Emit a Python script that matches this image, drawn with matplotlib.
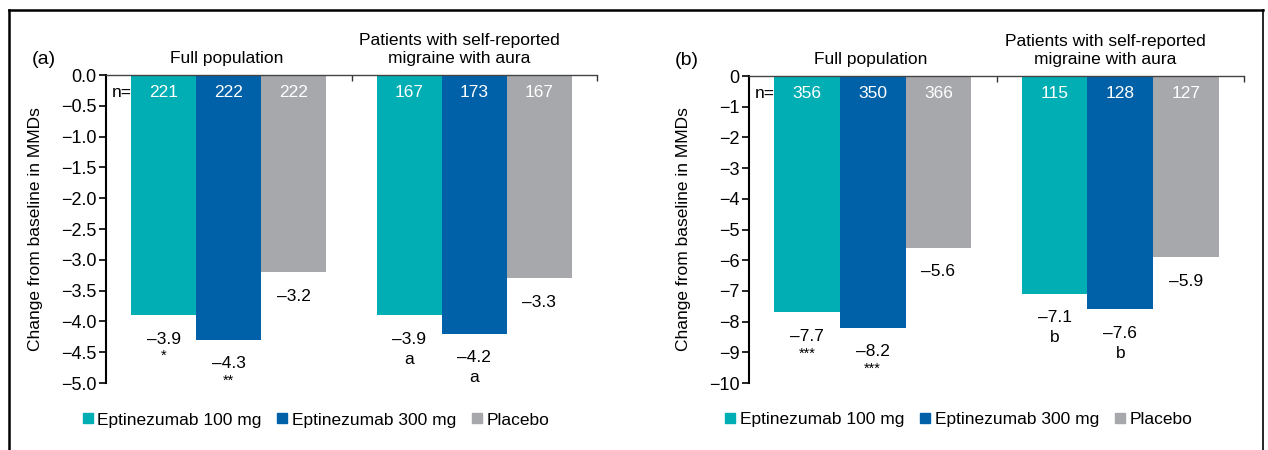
import matplotlib.pyplot as plt
from matplotlib.lines import Line2D

# ── Data ───────────────────────────────────────────
TREATMENTS   = ["Eptinezumab 100 mg", "Eptinezumab 300 mg", "Placebo"]
COLORS       = ["#00AEB3", "#0061A9", "#A7A8AB"]
GROUPS       = ["Full population", "Patients with self-reported\nmigraine with aura"]

# panel (a)
A_CHANGE = [[-3.9, -4.3, -3.2], [-3.9, -4.2, -3.3]]
A_N      = [[221, 222, 222], [167, 173, 167]]
A_SIG    = [["*", "**", ""], ["a", "a", ""]]
A_TICKS  = [0.0, -0.5, -1.0, -1.5, -2.0, -2.5, -3.0, -3.5, -4.0, -4.5, -5.0]

# panel (b)
B_CHANGE = [[-7.7, -8.2, -5.6], [-7.1, -7.6, -5.9]]
B_N      = [[356, 350, 366], [115, 128, 127]]
B_SIG    = [["***", "***", ""], ["b", "b", ""]]
B_TICKS  = [0, -1, -2, -3, -4, -5, -6, -7, -8, -9, -10]

plt.rcParams["font.family"] = ["Liberation Sans", "DejaVu Sans"]
FS = 12.5


def draw_panel(ax, tag, change, ns, sig, ticks, fmt, ylabel_x):
    width = 0.265
    for g, center in enumerate([0.5, 1.5]):
        for i in range(3):
            x = center + (i - 1) * width
            v = change[g][i]
            ax.bar(x, v, width=width, color=COLORS[i], align="center")
            ax.annotate(str(ns[g][i]), (x, 0), xytext=(0, -17),
                        textcoords="offset pixels", ha="center", va="center",
                        color="white", fontsize=FS)
            ax.annotate(f"\u2013{abs(v):.1f}", (x, v), xytext=(0, -24),
                        textcoords="offset pixels", ha="center", va="center",
                        fontsize=FS)
            if sig[g][i]:
                is_letter = sig[g][i].isalpha()
                ax.annotate(sig[g][i], (x, v), xytext=(0, -44 if is_letter else -41),
                            textcoords="offset pixels", ha="center", va="center",
                            fontsize=FS if is_letter else FS - 2)

    ax.annotate("n=", (0, 0), xytext=(6, -17), textcoords="offset pixels",
                ha="left", va="center", fontsize=FS)

    ax.text(0.49, 1.03, GROUPS[0], transform=ax.get_xaxis_transform(),
            ha="center", va="bottom", fontsize=FS)
    ax.text(1.44, 1.03, GROUPS[1], transform=ax.get_xaxis_transform(),
            ha="center", va="bottom", fontsize=FS, linespacing=1.2)
    ax.text(-0.126, 1.05, tag, transform=ax.transAxes, ha="center",
            va="center", fontsize=FS + 1.5)

    ax.set_xlim(0, 2)
    ax.set_ylim(ticks[-1], 0)
    ax.set_yticks(ticks)
    ax.set_yticklabels([fmt(t).replace("-", "\u2212") for t in ticks])
    ax.set_ylabel("Change from baseline in MMDs", fontsize=FS)
    ax.yaxis.set_label_coords(ylabel_x, 0.5)

    ax.xaxis.tick_top()
    ax.set_xticks([1, 2])
    ax.set_xticklabels([])
    ax.tick_params(axis="x", direction="in", length=4, width=1, colors="#333333")
    ax.tick_params(axis="y", direction="out", length=5, width=1.2,
                   labelsize=FS + 0.5, pad=2)

    ax.spines["right"].set_visible(False)
    ax.spines["bottom"].set_visible(False)
    ax.spines["top"].set_color("#444444")
    ax.spines["top"].set_linewidth(1.0)
    ax.spines["left"].set_linewidth(1.5)

    handles = [Line2D([], [], marker="s", linestyle="none", markersize=7,
                      color=c, label=t) for c, t in zip(COLORS, TREATMENTS)]
    ax.legend(handles=handles, loc="center left", bbox_to_anchor=(-0.08, -0.12),
              ncol=3, frameon=False, fontsize=FS, handlelength=0.6,
              handletextpad=0.25, columnspacing=0.9)


def main():
    fig = plt.figure(figsize=(12.68, 4.5), dpi=100)
    ax_a = fig.add_axes([106 / 1268, 1 - 383 / 450, 491 / 1268, 308 / 450])
    ax_b = fig.add_axes([749 / 1268, 1 - 383 / 450, 495 / 1268, 307 / 450])

    draw_panel(ax_a, "(a)", A_CHANGE, A_N, A_SIG, A_TICKS,
               lambda t: f"{t:.1f}", -0.128)
    draw_panel(ax_b, "(b)", B_CHANGE, B_N, B_SIG, B_TICKS,
               lambda t: f"{t:d}", -0.118)

    # outer frame (top, left, right)
    fig.add_artist(Line2D([9 / 1268, 1263 / 1268], [1 - 10 / 450, 1 - 10 / 450],
                          color="black", linewidth=1.8, transform=fig.transFigure))
    fig.add_artist(Line2D([9 / 1268, 9 / 1268], [0, 1 - 10 / 450],
                          color="black", linewidth=1.8, transform=fig.transFigure))
    fig.add_artist(Line2D([1263 / 1268, 1263 / 1268], [0, 1 - 10 / 450],
                          color="black", linewidth=1.2, transform=fig.transFigure))

    fig.savefig("out.png", dpi=100)
    plt.close(fig)


if __name__ == "__main__":
    main()
